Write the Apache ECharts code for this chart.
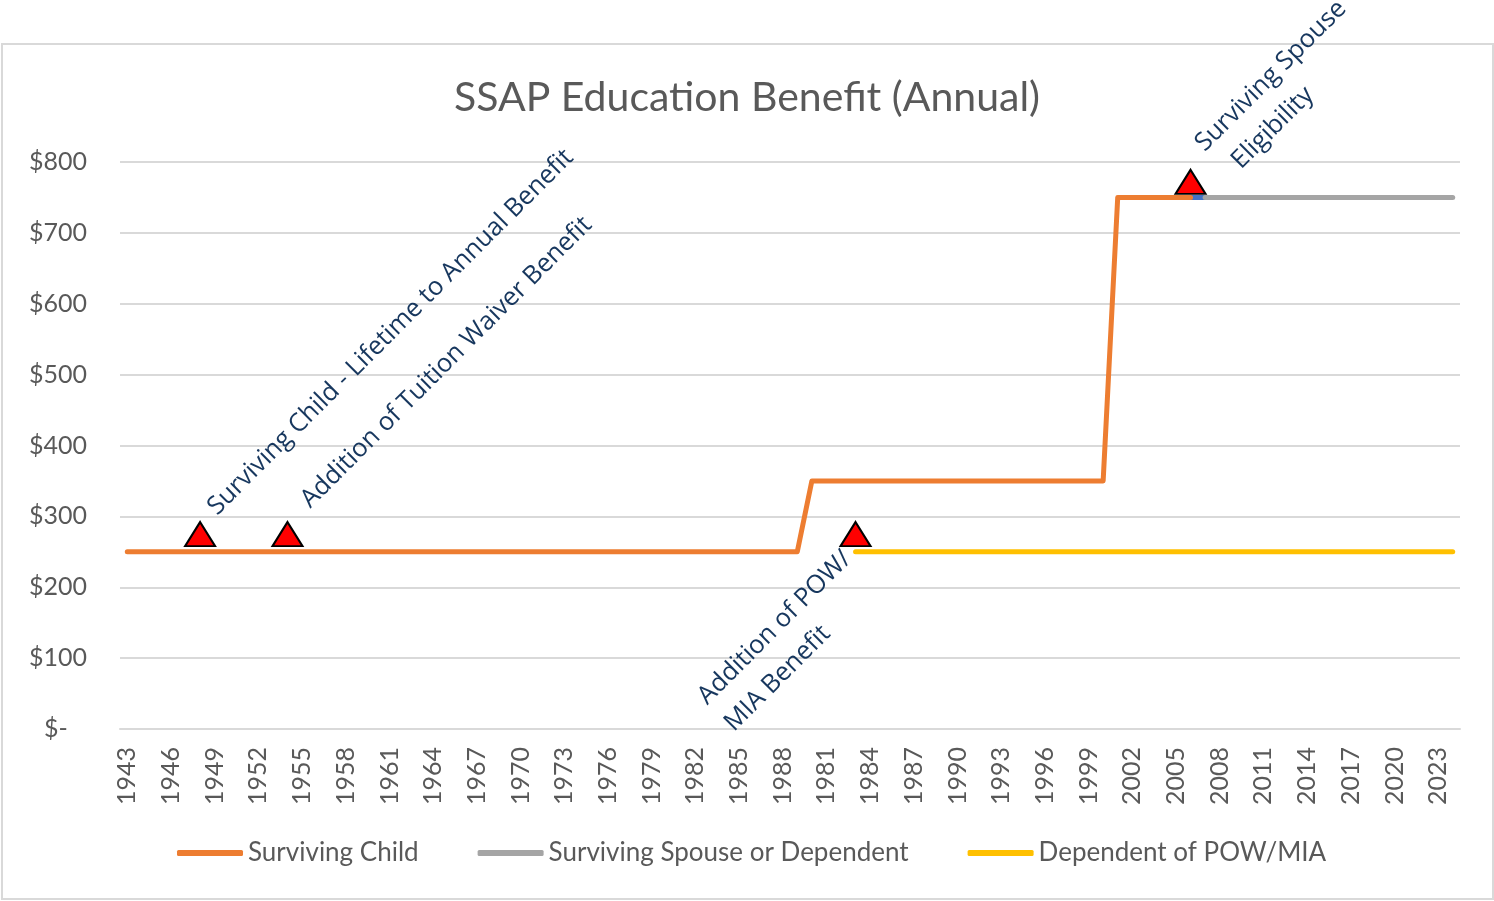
<!DOCTYPE html>
<html>
<head>
<meta charset="utf-8">
<script src="https://cdn.jsdelivr.net/npm/echarts@6/dist/echarts.min.js"></script>
<style>
html,body{margin:0;padding:0;background:#fff;}
#chart{width:1494px;height:901px;}
</style>
</head>
<body>
<div id="chart"></div>
<script>
// ---- data ----
const chartTitle = 'SSAP Education Benefit (Annual)';
const years = [
 '1943','1944','1945','1946','1947','1948','1949','1950','1951','1952',
 '1953','1954','1955','1956','1957','1958','1959','1960','1961','1962',
 '1963','1964','1965','1966','1967','1968','1969','1970','1971','1972',
 '1973','1974','1975','1976','1977','1978','1979','1980','1981','1982',
 '1983','1984','1985','1986','1987','1988','1979','1980','1981','1982',
 '1983','1984','1985','1986','1987','1988','1989','1990','1991','1992',
 '1993','1994','1995','1996','1997','1998','1999','2000','2001','2002',
 '2003','2004','2005','2006','2007','2008','2009','2010','2011','2012',
 '2013','2014','2015','2016','2017','2018','2019','2020','2021','2022',
 '2023','2024'
];
const seriesNames = ['Surviving Child','Surviving Spouse or Dependent','Dependent of POW/MIA'];
const childValues = [
 250,250,250,250,250,250,250,250,250,250,
 250,250,250,250,250,250,250,250,250,250,
 250,250,250,250,250,250,250,250,250,250,
 250,250,250,250,250,250,250,250,250,250,
 250,250,250,250,250,250,250,350,350,350,
 350,350,350,350,350,350,350,350,350,350,
 350,350,350,350,350,350,350,350,750,750,
 750,750,750,750,null,null,null,null,null,null,
 null,null,null,null,null,null,null,null,null,null,
 null,null
];
const spouseValues = [
 null,null,null,null,null,null,null,null,null,null,
 null,null,null,null,null,null,null,null,null,null,
 null,null,null,null,null,null,null,null,null,null,
 null,null,null,null,null,null,null,null,null,null,
 null,null,null,null,null,null,null,null,null,null,
 null,null,null,null,null,null,null,null,null,null,
 null,null,null,null,null,null,null,null,null,null,
 null,null,null,null,750,750,750,750,750,750,
 750,750,750,750,750,750,750,750,750,750,
 750,750
];
const powValues = [
 null,null,null,null,null,null,null,null,null,null,
 null,null,null,null,null,null,null,null,null,null,
 null,null,null,null,null,null,null,null,null,null,
 null,null,null,null,null,null,null,null,null,null,
 null,null,null,null,null,null,null,null,null,null,
 250,250,250,250,250,250,250,250,250,250,
 250,250,250,250,250,250,250,250,250,250,
 250,250,250,250,250,250,250,250,250,250,
 250,250,250,250,250,250,250,250,250,250,
 250,250
];
const linkValues = [
 null,null,null,null,null,null,null,null,null,null,
 null,null,null,null,null,null,null,null,null,null,
 null,null,null,null,null,null,null,null,null,null,
 null,null,null,null,null,null,null,null,null,null,
 null,null,null,null,null,null,null,null,null,null,
 null,null,null,null,null,null,null,null,null,null,
 null,null,null,null,null,null,null,null,null,null,
 null,null,null,750,750,null,null,null,null,null,
 null,null,null,null,null,null,null,null,null,null,
 null,null
];
const markerIdx = [5, 11, 50, 73];
const markerValues = [275, 275, 275, 772];
const markerNotes = [
 'Surviving Child - Lifetime to Annual Benefit',
 'Addition of Tuition Waiver Benefit',
 'Addition of POW/\nMIA Benefit',
 'Surviving Spouse\n  Eligibility'
];
const yTicks = {min: 0, max: 800, interval: 100};

// ---- styles ----
const CAL = 'Lato, "Open Sans", sans-serif';
const SEG = '"Open Sans", "Noto Sans", sans-serif';
const grey = '#595959';
const noteLayouts = [
 {align:'left', verticalAlign:'bottom', offset:[25, 11]},
 {align:'left', verticalAlign:'bottom', offset:[34, 10]},
 {align:'left', verticalAlign:'top', offset:[-226, -10]},
 {align:'left', verticalAlign:'bottom', offset:[31, 39]}
];

const chart = echarts.init(document.getElementById('chart'), null, {renderer:'canvas'});

function lineSeries(name, data, color, z) {
  return {
    name: name, type: 'line', data: data, z: z,
    showSymbol: false, symbol: 'none', connectNulls: false,
    lineStyle: {color: color, width: 5, cap: 'round', join: 'round'},
    itemStyle: {color: color},
    emphasis: {disabled: true}, animation: false
  };
}

const scatterData = markerIdx.map((ix, i) => ({
  value: [ix, markerValues[i]],
  label: Object.assign({
    show: true, formatter: markerNotes[i], rotate: 45, position: 'inside',
    color: '#17375E', fontFamily: SEG, fontSize: 25.5, lineHeight: 38
  }, noteLayouts[i])
}));

chart.setOption({
  animation: false,
  backgroundColor: '#fff',
  title: {
    text: chartTitle, left: 'center', top: 72,
    textStyle: {fontFamily: CAL, fontSize: 41, fontWeight: 'normal', color: grey}
  },
  legend: {
    data: seriesNames, left: 177, top: 840, padding: 0,
    itemWidth: 66, itemHeight: 6, itemGap: 59, icon: 'roundRect',
    textStyle: {fontFamily: CAL, fontSize: 26, color: grey}
  },
  grid: {left: 120, right: 34, top: 162, bottom: 172, outerBoundsMode: 'none'},
  xAxis: {
    type: 'category', data: years, boundaryGap: true,
    axisLine: {lineStyle: {color: '#d9d9d9', width: 2}},
    axisTick: {show: false},
    axisLabel: {interval: 2, rotate: 90, margin: 18, color: grey, fontFamily: CAL, fontSize: 25}
  },
  yAxis: {
    type: 'value', min: yTicks.min, max: yTicks.max, interval: yTicks.interval,
    axisLine: {show: false}, axisTick: {show: false},
    splitLine: {lineStyle: {color: '#d9d9d9', width: 2}},
    axisLabel: {
      margin: 33, color: grey, fontFamily: CAL, fontSize: 25,
      formatter: v => v === 0 ? '$-   ' : '$' + v
    }
  },
  graphic: [{
    type: 'rect', silent: true, z: -10,
    shape: {x: 2, y: 44, width: 1491, height: 855},
    style: {fill: 'none', stroke: '#d9d9d9', lineWidth: 2}
  }],
  series: [
    lineSeries('link', linkValues, '#4472C4', 1),
    lineSeries(seriesNames[0], childValues, '#ED7D31', 2),
    lineSeries(seriesNames[1], spouseValues, '#A5A5A5', 3),
    lineSeries(seriesNames[2], powValues, '#FFC000', 4),
    {
      name: 'notes', type: 'scatter', z: 10, data: scatterData,
      symbol: 'triangle', symbolSize: [30, 24],
      itemStyle: {color: '#FF0000', borderColor: '#000', borderWidth: 2, opacity: 1},
      emphasis: {disabled: true}, animation: false
    }
  ]
});
</script>
</body>
</html>
